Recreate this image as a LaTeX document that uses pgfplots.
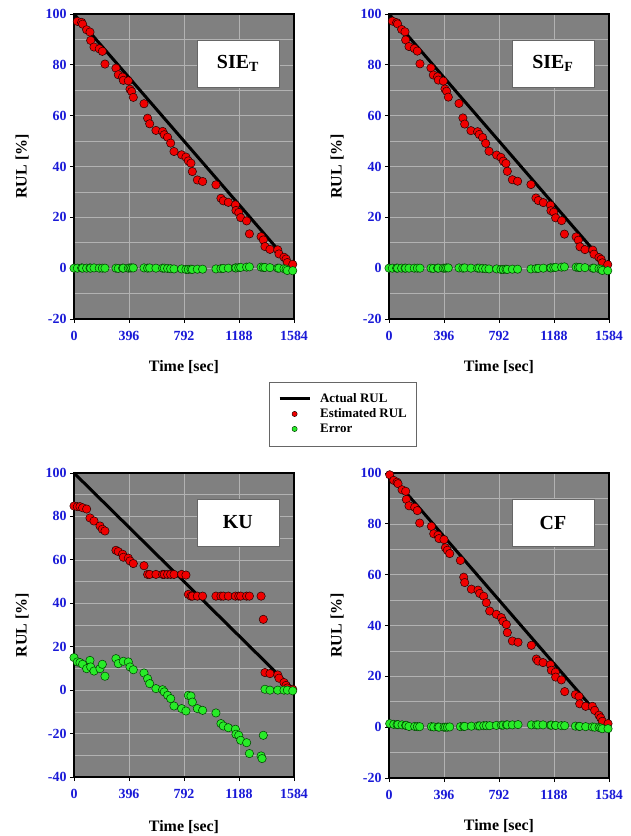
\documentclass[border=0pt]{standalone}
\usepackage{fontspec}
\setmainfont{Liberation Serif}
\usepackage{pgfplots}
\pgfplotsset{compat=1.18}
\usepackage{pgfplotstable}

\definecolor{bg}{RGB}{128,128,128}
\definecolor{gridc}{RGB}{178,178,178}
\definecolor{tickblue}{RGB}{25,25,215}
\definecolor{redm}{RGB}{240,0,0}
\definecolor{greenm}{RGB}{40,235,40}

% t  est  err
\pgfplotstableread{
t est err
0 nan 0.0
24 97.1 0.0
55 96.7 0.1
62 96.0 0.0
91 93.8 0.0
115 92.9 0.1
120 89.6 0.0
144 87.0 0.1
182 86.3 0.0
204 85.3 0.0
223 80.3 0.0
302 78.7 0.0
319 76.1 -0.1
350 75.2 0.0
355 73.9 0.0
391 73.7 0.0
403 70.4 0.1
415 69.5 0.1
427 67.2 0.1
504 64.7 0.1
530 59.0 0.0
545 56.8 0.1
590 54.2 0.0
638 53.8 0.0
650 52.5 0.0
674 51.5 -0.1
696 49.2 -0.2
720 45.9 -0.3
775 44.6 -0.3
806 43.7 -0.5
823 42.2 -0.5
842 41.3 -0.4
852 38.0 -0.5
888 34.7 -0.4
926 34.1 -0.4
1022 32.8 -0.3
1058 27.5 -0.2
1075 26.5 -0.1
1111 25.9 0.0
1162 24.9 0.1
1166 22.7 0.1
1186 21.9 0.2
1200 19.9 0.3
1243 18.6 0.4
1263 13.5 0.5
1347 12.4 0.4
1363 11.1 0.3
1375 8.5 0.3
1411 7.4 0.2
1467 7.2 0.0
1476 5.6 0.0
1512 4.3 -0.2
1527 3.6 -0.4
1536 2.2 -0.9
1575 1.5 -1.0
}\sietdata

\pgfplotstableread{
t est err
0 nan 0.0
24 97.2 0.0
55 96.6 0.0
62 96.1 0.0
91 93.9 0.0
115 93.0 0.0
120 89.8 0.0
144 87.2 0.0
182 86.4 0.0
204 85.4 0.0
223 80.4 0.0
302 78.8 0.0
319 76.0 -0.1
350 75.3 0.0
355 74.0 0.0
391 73.6 0.0
403 70.5 0.0
415 69.6 0.1
427 67.3 0.1
504 64.8 0.1
532 59.1 0.0
545 56.7 0.1
590 54.1 0.0
638 53.7 0.0
650 52.6 0.0
674 51.4 -0.1
696 49.1 -0.2
720 46.0 -0.3
775 44.5 -0.3
806 43.6 -0.5
823 42.1 -0.5
842 41.2 -0.4
852 38.1 -0.5
888 34.8 -0.4
926 34.2 -0.4
1022 32.9 -0.3
1058 27.6 -0.2
1075 26.6 -0.1
1111 25.8 0.0
1162 24.8 0.1
1166 22.6 0.1
1186 22.0 0.2
1200 19.8 0.3
1243 18.7 0.4
1263 13.4 0.5
1347 12.3 0.4
1363 11.0 0.3
1375 8.4 0.3
1411 7.3 0.2
1467 7.1 0.0
1476 5.5 0.0
1512 4.2 -0.2
1527 3.5 -0.4
1536 2.1 -0.9
1575 1.4 -1.0
}\siefdata

\pgfplotstableread{
t est err
5 99.3 1.4
34 97.1 1.1
58 96.4 1.0
65 95.8 1.0
94 93.4 0.9
120 92.8 0.7
125 89.6 0.7
144 87.1 0.3
185 86.5 0.3
204 85.2 0.2
221 80.3 0.2
305 79.0 0.2
322 76.1 0.1
353 75.5 0.1
360 74.2 0.0
396 73.8 0.0
406 70.6 0.0
420 69.6 0.0
437 68.3 0.1
514 65.6 0.2
538 59.0 0.3
545 56.9 0.3
593 54.3 0.4
641 53.9 0.5
653 52.6 0.5
682 51.5 0.6
701 49.0 0.6
725 45.7 0.6
773 44.4 0.7
809 43.1 0.8
821 41.6 0.8
845 40.4 0.9
852 37.2 0.9
888 33.9 0.9
929 33.4 1.0
1025 32.2 0.9
1061 26.8 0.9
1073 26.0 0.9
1109 25.4 0.9
1162 24.6 0.8
1169 22.4 0.8
1198 21.6 0.7
1200 19.7 0.7
1241 18.6 0.6
1265 14.0 0.6
1342 12.8 0.4
1368 12.1 0.3
1373 9.2 0.3
1416 8.2 0.2
1464 8.2 0.1
1481 6.6 0.0
1512 4.7 -0.1
1524 3.7 -0.3
1536 2.3 -0.6
1577 1.4 -0.6
}\cfdata

\pgfplotstableread{
t est
0 84.8
24 84.5
43 84.5
62 84.0
91 83.4
115 79.3
144 77.9
187 75.6
204 74.1
223 73.3
302 64.4
319 63.8
350 62.6
355 61.2
391 60.8
403 59.5
427 58.3
504 57.3
530 53.3
545 53.3
590 53.3
638 53.3
650 53.3
674 53.3
696 53.3
720 53.3
775 53.3
806 53.0
823 44.1
842 43.3
852 43.3
888 43.3
926 43.3
1022 43.3
1058 43.3
1075 43.3
1111 43.3
1162 43.3
1186 43.3
1200 43.3
1243 43.3
1263 43.3
1347 43.3
1363 32.6
1375 8.1
1411 7.6
1467 7.0
1476 5.5
1512 3.5
1527 2.2
1536 1.0
1575 0.4
}\kuest

\pgfplotstableread{
t err
0 15.0
24 13.0
43 12.7
62 11.9
91 9.9
115 13.7
120 10.7
144 8.8
187 9.9
204 11.9
223 6.4
302 14.5
319 12.2
355 13.3
391 13.0
403 10.7
427 9.4
504 7.9
530 5.3
545 3.0
590 0.7
638 0.2
650 -0.8
674 -2.4
696 -3.9
720 -7.3
775 -8.5
806 -9.6
823 -2.4
842 -2.7
852 -5.5
888 -8.5
926 -9.3
1022 -10.5
1058 -15.4
1075 -16.5
1111 -17.3
1162 -18.0
1166 -20.3
1186 -20.8
1200 -23.1
1243 -24.2
1263 -29.2
1347 -30.3
1354 -31.5
1363 -20.8
1375 0.4
1411 0.0
1467 0.0
1512 0.0
1536 0.0
1575 -0.3
}\kuerr

\pgfplotsset{
  panel/.style={
    scale only axis, width=220bp, height=305bp,
    anchor=south west, clip=false,
    xmin=0, xmax=1584, xtick={0,396,792,1188,1584},
    ymin=-20, ymax=100, ytick={-20,0,20,40,60,80,100}, minor y tick num=1,
    axis background/.style={fill=bg},
    xmajorgrids, ymajorgrids, yminorgrids,
    major grid style={gridc, line width=0.6bp},
    minor grid style={gridc, line width=0.6bp},
    tick pos=left, tick align=outside,
    major tick length=4bp, minor tick length=0bp,
    axis line style={line width=1.5bp},
    every tick/.style={black, line width=0.8bp},
    ticklabel style={font=\fontsize{14}{14}\selectfont\bfseries, text=tickblue},
    x tick label style={yshift=-5bp},
    /pgf/number format/assume math mode=true,
    /pgf/number format/1000 sep={},
    xlabel={Time [sec]}, ylabel={RUL [\%]},
    every axis x label/.style={at={(axis description cs:0.5,-0.157)},anchor=center,font=\fontsize{16}{16}\selectfont\bfseries},
    every axis y label/.style={at={(axis description cs:-0.236,0.5)},rotate=90,anchor=center,font=\fontsize{16}{16}\selectfont\bfseries},
    legend image code/.code={\draw[mark repeat=2,mark phase=2,##1] plot coordinates {(0bp,0bp)(15bp,0bp)(30bp,0bp)};},
  },
  est/.style={only marks, mark=*, mark size=4.2bp, mark options={fill=redm, draw=black!85!red, line width=0.5bp}},
  err/.style={only marks, mark=*, mark size=4.2bp, mark options={fill=greenm, draw=black!75!green, line width=0.5bp}},
  act/.style={black, line width=3bp, no marks},
}
\newcommand{\tbox}[1]{\node[draw=black!60, fill=white, line width=0.8bp, minimum width=82bp, minimum height=47bp, inner sep=0pt, font=\fontsize{20}{20}\selectfont\bfseries] at (rel axis cs:0.745,0.837) {#1};}

\begin{document}
\begin{tikzpicture}
\useasboundingbox (0,0) rectangle (631bp,836bp);

% Panel 1: SIE_T
\begin{axis}[panel, at={(74bp,517bp)},
  legend style={at={(axis description cs:0.886,-0.2066)}, anchor=north west,
    draw=black!60, fill=white, font=\fontsize{13}{13}\selectfont\bfseries,
    inner xsep=9bp, inner ysep=11bp, row sep=3.5bp,
    nodes={inner sep=0pt, text height=9bp, text depth=2.5bp},
    /tikz/every odd column/.append style={column sep=9bp}},
  legend cell align=left,
  legend image post style={mark size=2.6bp},
]
\addplot[act] coordinates {(0,100) (1584,0)};
\addlegendentry{Actual RUL}
\addplot[est] table[x=t,y=est] {\sietdata};
\addlegendentry{Estimated RUL}
\addplot[err] table[x=t,y=err] {\sietdata};
\addlegendentry{Error}
\tbox{SIE\textsubscript{T}}
\end{axis}

% Panel 2: SIE_F
\begin{axis}[panel, at={(389bp,517bp)}]
\addplot[act] coordinates {(0,100) (1584,0)};
\addplot[est] table[x=t,y=est] {\siefdata};
\addplot[err] table[x=t,y=err] {\siefdata};
\tbox{SIE\textsubscript{F}}
\end{axis}

% Panel 3: KU
\begin{axis}[panel, at={(74bp,59bp)}, height=304bp,
  ymin=-40, ymax=100, ytick={-40,-20,0,20,40,60,80,100},
  every axis x label/.append style={at={(axis description cs:0.5,-0.164)}}]
\addplot[act] coordinates {(0,100) (1584,0)};
\addplot[est] table[x=t,y=est] {\kuest};
\addplot[err] table[x=t,y=err] {\kuerr};
\tbox{KU}
\end{axis}

% Panel 4: CF
\begin{axis}[panel, at={(389bp,58bp)}]
\addplot[act] coordinates {(0,100) (1584,0)};
\addplot[est] table[x=t,y=est] {\cfdata};
\addplot[err] table[x=t,y=err] {\cfdata};
\tbox{CF}
\end{axis}
\end{tikzpicture}
\end{document}
